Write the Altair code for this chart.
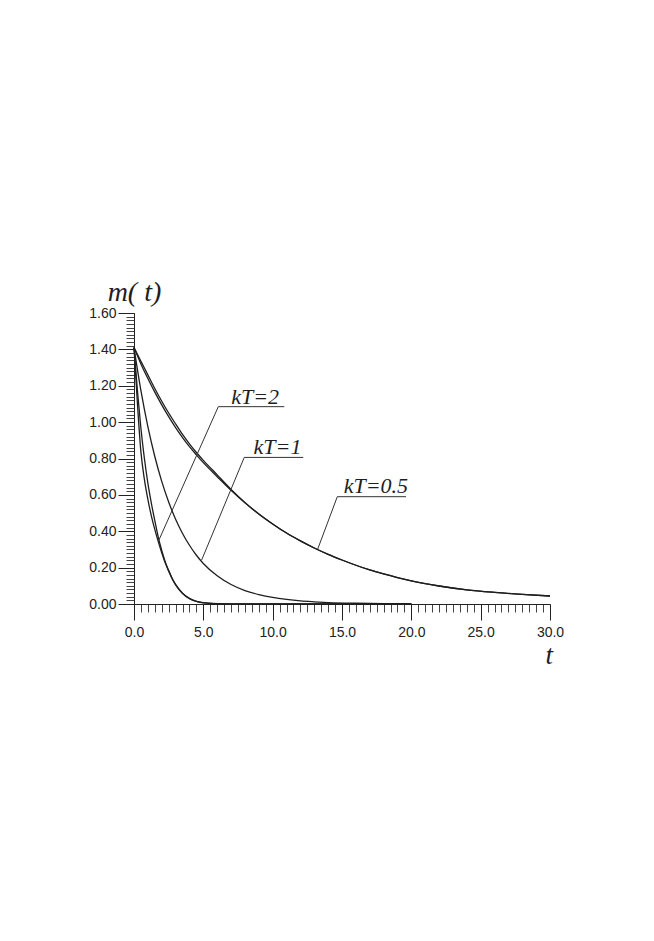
import altair as alt
import pandas as pd

# ---- data ----
t_slow = [0, 0.5, 1, 1.5, 2, 2.5, 3, 3.5, 4, 4.5, 5, 6, 7, 8, 9, 10, 11, 12, 13, 14,
          15, 16, 17, 18, 19, 20, 22, 24, 26, 28, 30]
m_slow_upper = [1.41, 1.335, 1.26, 1.185, 1.115, 1.05, 0.99, 0.932, 0.88, 0.833, 0.79,
                0.71, 0.63, 0.558, 0.495, 0.44, 0.39, 0.347, 0.308, 0.273, 0.242, 0.213,
                0.187, 0.165, 0.145, 0.127, 0.099, 0.078, 0.064, 0.053, 0.044]
m_slow_lower = [1.41, 1.32, 1.24, 1.165, 1.095, 1.03, 0.97, 0.915, 0.865, 0.82, 0.777,
                0.70, 0.625, 0.556, 0.495, 0.44, 0.39, 0.347, 0.308, 0.273, 0.242, 0.213,
                0.187, 0.165, 0.145, 0.127, 0.099, 0.078, 0.064, 0.053, 0.044]

t_mid = [0, 0.5, 1, 1.5, 2, 2.5, 3, 3.5, 4, 4.5, 5, 6, 7, 8, 9, 10, 11, 12, 13, 14, 16, 18, 20]
m_mid = [1.41, 1.173, 0.975, 0.811, 0.674, 0.561, 0.466, 0.388, 0.323, 0.268, 0.223,
         0.155, 0.107, 0.074, 0.052, 0.036, 0.025, 0.017, 0.012, 0.008, 0.004, 0.002, 0.001]

t_fast = [0, 0.25, 0.5, 0.75, 1, 1.25, 1.5, 1.75, 2, 2.25, 2.5, 2.75, 3, 3.5, 4, 4.5, 5,
          6, 7, 10, 20]
m_fast_outer = [1.41, 1.17, 0.965, 0.80, 0.665, 0.555, 0.458, 0.368, 0.295, 0.233, 0.185,
                0.142, 0.108, 0.060, 0.031, 0.015, 0.007, 0.002, 0.0008, 0.0, 0.0]
m_fast_inner = [1.41, 1.10, 0.835, 0.685, 0.575, 0.485, 0.41, 0.343, 0.282, 0.226, 0.18,
                0.139, 0.105, 0.058, 0.029, 0.014, 0.006, 0.0015, 0.0005, 0.0, 0.0]

# annotation labels and leader geometry (data coordinates)
label_text = ["kT=2", "kT=1", "kT=0.5"]
label_t = [8.73, 10.35, 17.44]
label_m = [1.10, 0.825, 0.612]
leader_tip_t = [1.80, 4.88, 13.25]
leader_tip_m = [0.352, 0.242, 0.302]
leader_corner_t = [6.08, 7.95, 14.66]
leader_corner_m = [1.085, 0.806, 0.59]
leader_end_t = [10.84, 12.21, 19.62]

x_major = [0, 5, 10, 15, 20, 25, 30]
y_major = [0, 0.2, 0.4, 0.6, 0.8, 1.0, 1.2, 1.4, 1.6]
x_minor = [i * 0.5 for i in range(61)]
y_minor = [round(i * 0.02, 2) for i in range(81)]

# ---- tables ----
rows = []
for name, ts, ms in [("s1", t_slow, m_slow_upper), ("s2", t_slow, m_slow_lower),
                     ("m1", t_mid, m_mid), ("f1", t_fast, m_fast_outer),
                     ("f2", t_fast, m_fast_inner)]:
    for t, m in zip(ts, ms):
        rows.append({"series": name, "t": t, "m": m})
curves_df = pd.DataFrame(rows)

lead_rows = []
for i in range(len(label_text)):
    lead_rows.append({"g": i, "o": 0, "t": leader_tip_t[i], "m": leader_tip_m[i]})
    lead_rows.append({"g": i, "o": 1, "t": leader_corner_t[i], "m": leader_corner_m[i]})
    lead_rows.append({"g": i, "o": 2, "t": leader_end_t[i], "m": leader_corner_m[i]})
lead_df = pd.DataFrame(lead_rows)

labels_df = pd.DataFrame({"text": label_text, "t": label_t, "m": label_m})
ytitle_df = pd.DataFrame({"text": ["m( t)"], "t": [-1.9], "m": [1.666]})
xtitle_df = pd.DataFrame({"text": ["t"], "t": [29.95], "m": [-0.33]})

xs = alt.Scale(domain=[0, 30], nice=False, zero=False)
ys = alt.Scale(domain=[0, 1.6], nice=False, zero=False)

AX = "#222222"
LBL = dict(labelFont="Liberation Sans", labelFontSize=14, labelColor="#222222")


def xy_noaxis():
    return dict(x=alt.X("t:Q", scale=xs, axis=None), y=alt.Y("m:Q", scale=ys, axis=None))


curves = alt.Chart(curves_df).mark_line(color="#1e1e1e", strokeWidth=1.3,
                                          interpolate="monotone").encode(
    x=alt.X("t:Q", scale=xs, axis=alt.Axis(values=x_major, format=".1f", tickSize=16,
                                           labelPadding=5, title=None, grid=False,
                                           domainColor=AX, tickColor=AX, orient="bottom",
                                           labelFlush=False, **LBL)),
    y=alt.Y("m:Q", scale=ys, axis=alt.Axis(values=y_major, format=".2f", tickSize=16,
                                           labelPadding=2, title=None, grid=False,
                                           domainColor=AX, tickColor=AX, orient="left",
                                           labelFlush=False, **LBL)),
    detail="series:N",
)

minor = alt.Chart(curves_df).mark_point(opacity=0).encode(
    x=alt.X("t:Q", scale=xs, axis=alt.Axis(values=x_minor, labels=False, tickSize=8,
                                           domain=False, title=None, grid=False,
                                           tickColor="#444444", orient="bottom")),
    y=alt.Y("m:Q", scale=ys, axis=alt.Axis(values=y_minor, labels=False, tickSize=8,
                                           domain=False, title=None, grid=False,
                                           tickColor="#444444", orient="left")),
)

leaders = alt.Chart(lead_df).mark_line(color="#333333", strokeWidth=1).encode(
    detail="g:N", order="o:Q", **xy_noaxis())

labels = alt.Chart(labels_df).mark_text(font="Liberation Serif", fontStyle="italic",
                                        fontSize=22, align="center", baseline="alphabetic",
                                        color="#1e1e1e").encode(text="text:N", **xy_noaxis())

ylab = alt.Chart(ytitle_df).mark_text(font="Liberation Serif", fontStyle="italic",
                                      fontSize=28, align="left",
                                      baseline="alphabetic", color="#1e1e1e").encode(
    text="text:N", **xy_noaxis())
xlab = alt.Chart(xtitle_df).mark_text(font="Liberation Serif", fontStyle="italic",
                                      fontSize=27, align="center",
                                      baseline="alphabetic", color="#1e1e1e").encode(
    text="text:N", **xy_noaxis())

chart = alt.layer(minor, curves, leaders, labels, ylab, xlab).resolve_axis(
    x="independent", y="independent"
).properties(
    width=416, height=291,
    background="white",
    autosize=alt.AutoSizeParams(type="none"),
    padding={"left": 126, "top": 305, "right": 96, "bottom": 100},
).configure_view(strokeWidth=0, stroke="transparent")

chart.save("out.html", embed_options={"renderer": "svg", "actions": False})
